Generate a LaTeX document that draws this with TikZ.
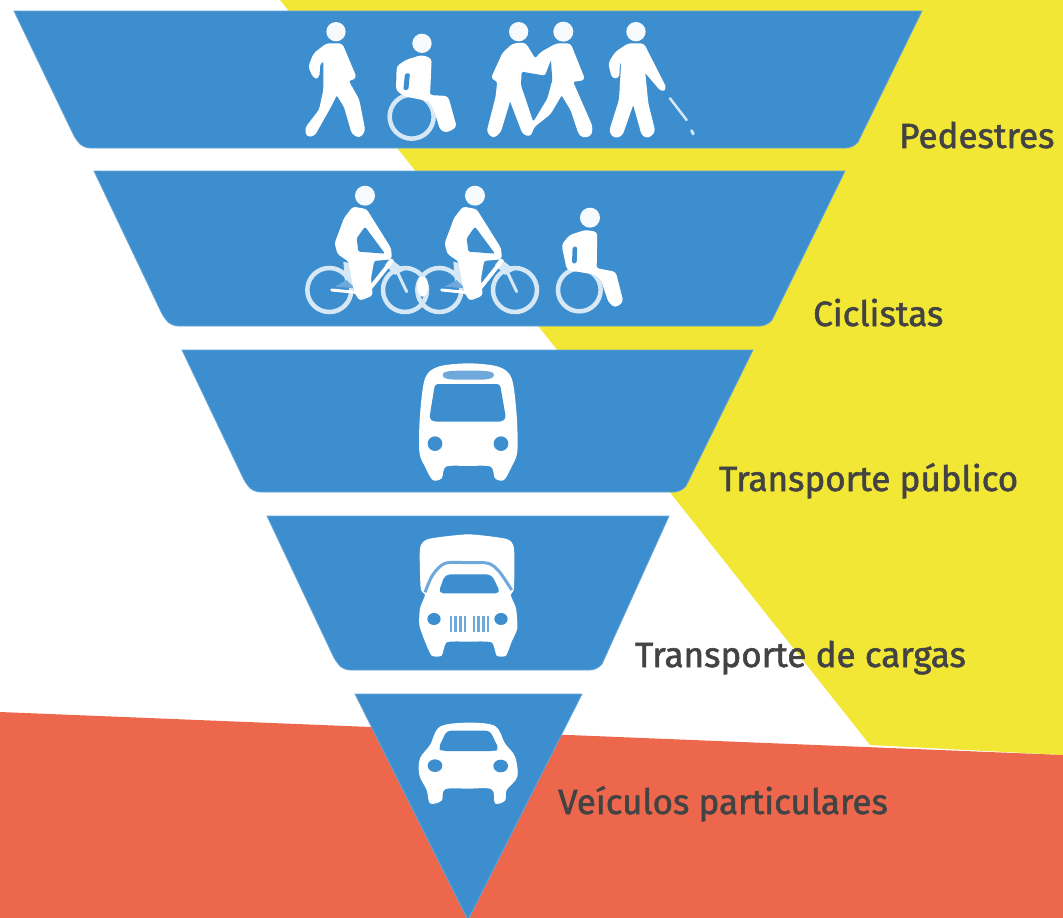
\documentclass[tikz,border=0pt]{standalone}
\usepackage{fontspec}
\setmainfont{Fira Sans}
\definecolor{bluefill}{HTML}{3D8ECE}
\definecolor{yel}{HTML}{F3E735}
\definecolor{redfill}{HTML}{EC674C}
\definecolor{lab}{HTML}{434343}
\definecolor{lightw}{HTML}{D6E8F6}
\definecolor{midb}{HTML}{6FA9DC}
\newfontfamily\labfont[FakeBold=1.6]{Fira Sans}
\tikzset{
  band/.style={fill=bluefill,draw=bluefill!80!white,line width=0.8pt},
  lbl/.style={anchor=base west,inner sep=0pt,text=lab,font=\labfont\fontsize{35}{38}\selectfont},
  icon/.style={fill=white,draw=white,line width=2pt,line join=round,rounded corners=3pt},
  holeb/.style={fill=bluefill,rounded corners=1.5pt},
  head/.style={fill=white!96!bluefill},
  wheelc/.style={draw=lightw,line width=4.5pt,fill=none},
  zoomat/.style={shift={#1},x=0.3333pt,y=-0.3333pt}
}
\newcommand{\cyclist}{%
  \draw[wheelc] (118,345) circle (66);
  \draw[wheelc] (345,345) circle (66);
  \fill[lightw] (300,250)--(345,285)--(315,300)--(285,270)--cycle;
  \fill[lightw] (160,260)--(200,270)--(195,340)--(165,320)--cycle;
  \fill[midb] (135,335)--(170,315)--(195,340)--cycle;
  \draw[lightw,line width=3pt,line cap=round] (312,270)--(350,350);
  \fill[head] (225,62) circle (30);
  \fill[icon,rounded corners=2.5pt] (190,98)--(228,105)--(300,220)--(303,250)--(250,255)--(240,310)--(245,360)--(210,374)--(195,350)--(178,258)--(145,235)--(137,205)--(165,130)--cycle;
  \draw[white,line width=4pt,line cap=round] (240,340)--(305,258);
  \draw[white,line width=3pt,line cap=round] (125,345)--(195,352);
  \fill[holeb] (225,155)--(285,236)--(205,230)--(200,190)--cycle;
}
\begin{document}
\begin{tikzpicture}[x=1pt,y=-1pt]
\useasboundingbox (0,0) rectangle (1063,918);
\fill[white] (0,0) rectangle (1063,918);
\fill[yel] (280,0)--(1063,0)--(1063,755)--(870,745)--cycle;
\fill[redfill] (0,712)--(1063,755)--(1063,918)--(0,918)--cycle;

% bands
\path[band] (14,11) -- (922,11) -- (858,142) [rounded corners=6pt] -- (852,148) -- (84,148) -- (76,140) [sharp corners] -- cycle;
\path[band] (94,171) -- (845,171) -- (772,320) [rounded corners=6pt] -- (766,326) -- (172,326) -- (164,318) [sharp corners] -- cycle;
\path[band] (182,350) -- (753,350) -- (686,486) [rounded corners=6pt] -- (680,492) -- (254,492) -- (246,484) [sharp corners] -- cycle;
\path[band] (267,516) -- (669,516) -- (602,664) [rounded corners=6pt] -- (596,670) -- (344,670) -- (336,662) [sharp corners] -- cycle;
\path[band] (355,694) -- (582,694) -- (468,920) -- cycle;

% labels
\node[lbl] (ped) at (899,148) {Pedestres};
\node[lbl] (cic) at (813,326) {Ciclistas};
\node[lbl] (pub) at (719,491) {Transporte público};
\node[lbl] (car) at (635,667) {Transporte de cargas};
\node[lbl] (vei) at (558,814) {Veículos particulares};

% pedestrians
\begin{scope}[zoomat={(290,10)}]
  % walker
  \fill[head] (138,65) circle (29);
  \fill[icon] (110,103)--(155,103)--(197,203)--(172,211)--(205,270)--(223,362)--(208,381)--(188,370)--(165,290)--(140,250)--(120,290)--(72,375)--(52,378)--(48,355)--(90,300)--(103,240)--(103,150)--(88,158)--(85,202)--(72,202)--(58,170)--(73,132)--cycle;
  % wheelchair
  \fill[head] (396,100) circle (29);
  \draw[wheelc] (365,320) circle (66);
  \fill[icon] (395,138)--(422,147)--(417,258)--(472,261)--(497,350)--(470,365)--(453,358)--(435,300)--(420,272)--(345,256)--(321,240)--(323,170)--(350,152)--cycle;
  \fill[holeb] (345,190)--(360,190)--(355,240)--(340,240)--cycle;
  % two persons
  \fill[head] (686,65) circle (29);
  \fill[head] (820,65) circle (30);
  \fill[icon] (670,103)--(705,101)--(735,150)--(755,128)--(800,103)--(840,103)--(882,208)--(845,213)--(905,350)--(902,375)--(880,381)--(868,370)--(845,300)--(815,250)--(780,310)--(730,350)--(720,377)--(700,370)--(660,265)--(630,365)--(610,382)--(593,365)--(620,260)--(625,212)--(606,205)--(640,130)--cycle;
  \fill[holeb] (695,185)--(765,197)--(783,150)--(787,210)--(772,265)--(730,335)--(693,225)--cycle;
  % cane person
  \fill[head] (1038,65) circle (29);
  \fill[icon] (1015,103)--(1060,103)--(1127,235)--(1115,242)--(1062,180)--(1072,280)--(1093,365)--(1075,382)--(1058,375)--(1030,275)--(995,375)--(975,382)--(960,365)--(990,270)--(997,150)--(987,158)--(985,202)--(968,202)--(958,160)--(978,128)--cycle;
  \draw[lightw,line width=2.5pt,line cap=round] (1140,265)--(1190,330);
  \draw[lightw,line width=3pt,line cap=round] (1205,362)--(1210,372);
\end{scope}

% cyclists
\begin{scope}[zoomat={(290,175)}]
  \cyclist
  \begin{scope}[xshift=110pt]\cyclist\end{scope}
  \fill[white] (398,335) ellipse (16 and 30);
  % wheelchair
  \fill[head] (900,128) circle (30);
  \draw[wheelc] (868,345) circle (64);
  \fill[icon] (885,168)--(919,173)--(917,282)--(975,293)--(997,380)--(975,395)--(958,380)--(935,312)--(915,296)--(833,282)--(818,210)--(840,183)--cycle;
  \fill[holeb] (848,215)--(862,215)--(860,265)--(846,265)--cycle;
\end{scope}

% bus
\begin{scope}[zoomat={(400,355)}]
  \fill[white] plot[smooth cycle,tension=0.5] coordinates {(205,25)(295,35)(335,70)(350,180)(352,290)(335,335)(312,375)(285,370)(272,335)(205,333)(138,335)(125,370)(98,375)(75,335)(58,290)(60,180)(75,70)(115,35)};
  \fill[holeb,rounded corners=3pt] (105,87)--(300,87)--(318,190)--(305,200)--(100,200)--(88,190)--cycle;
  \fill[midb] plot[smooth cycle,tension=0.7] coordinates {(205,47)(265,49)(282,60)(265,72)(205,74)(145,72)(128,60)(145,49)};
  \fill[bluefill] (105,266) circle (22) (303,266) circle (22);
\end{scope}

% truck
\begin{scope}[zoomat={(400,525)}]
  \fill[white] plot[smooth cycle,tension=0.35] coordinates {(205,28)(320,42)(342,70)(342,190)(332,210)(348,250)(352,310)(335,350)(318,392)(290,392)(275,352)(205,350)(140,352)(125,392)(95,392)(75,350)(58,300)(60,250)(75,210)(62,190)(60,70)(85,42)};
  \draw[midb,line width=3pt] plot[smooth,tension=0.5] coordinates {(75,202)(98,150)(135,115)(205,113)(265,115)(298,140)(335,195)};
  \fill[holeb,rounded corners=5pt] (135,148)--(275,148)--(302,205)--(115,205)--cycle;
  \fill[bluefill] (102,282) ellipse (20 and 18) (303,282) ellipse (20 and 18);
  \foreach \gx/\gw in {152/6,166/8,182/11,196/6,222/7,236/11,250/8,264/5}
    \draw[midb,line width={\gw*0.3333pt}] (\gx,273)--(\gx,320);
\end{scope}

% car
\begin{scope}[zoomat={(400,710)}]
  \fill[white] plot[smooth cycle,tension=0.55] coordinates {(205,38)(285,48)(315,100)(345,140)(352,200)(320,240)(315,272)(285,280)(275,238)(205,236)(135,238)(125,272)(90,280)(80,240)(58,195)(60,145)(90,105)(120,50)};
  \fill[holeb,rounded corners=4pt] (140,62)--(270,62)--(297,118)--(285,123)--(125,123)--(115,115)--cycle;
  \fill[bluefill] (105,167) ellipse (22 and 19) (302,168) ellipse (22 and 19);
\end{scope}
\end{tikzpicture}
\end{document}
